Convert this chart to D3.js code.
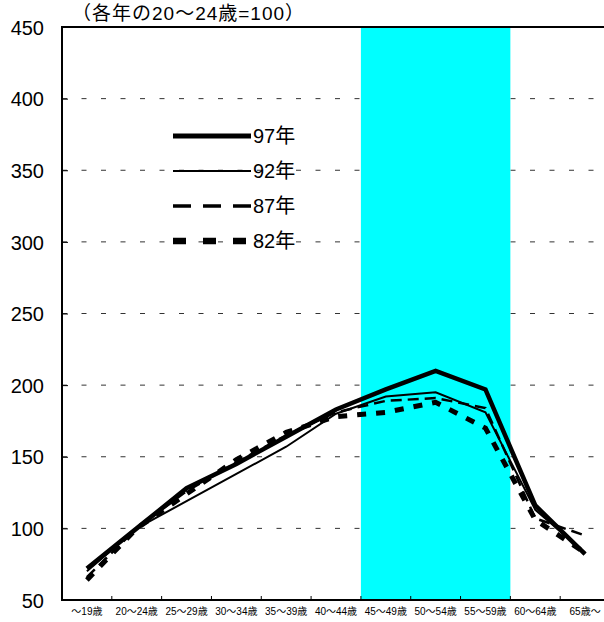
<!DOCTYPE html>
<html>
<head>
<meta charset="utf-8">
<script src="https://cdn.jsdelivr.net/npm/d3@7"></script>
<style>
  html, body { margin: 0; padding: 0; background: #fff; }
  svg { display: block; font-family: "Liberation Sans", Arial, "Noto Sans CJK JP", sans-serif; }
</style>
</head>
<body>
<svg id="chart" width="604" height="622"></svg>
<script>
// Age groups (x axis)
const ageGroups = ["～19歳", "20～24歳", "25～29歳", "30～34歳", "35～39歳", "40～44歳",
                   "45～49歳", "50～54歳", "55～59歳", "60～64歳", "65歳～"];

// Index values by age group (20～24歳 = 100) for each survey year
const y97 = [72, 100, 128, 145, 164, 183, 197, 210, 197, 116, 82];
const y92 = [70, 100, 119, 138, 157, 180, 192, 195, 181, 113, 83];
const y87 = [66, 100, 126, 146, 165, 181, 189, 191, 184, 107, 95];
const y82 = [64, 100, 124, 148, 167, 178, 181, 188, 170, 106, 83];

const seriesNames = ["97年", "92年", "87年", "82年"];
const yTicks = [50, 100, 150, 200, 250, 300, 350, 400, 450];
const highlightGroups = ["45～49歳", "50～54歳", "55～59歳"];
const subtitle = "（各年の20～24歳=100）";

const svg = d3.select("#chart");
const plotLeft = 62, plotRight = 610, plotTop = 27, plotBottom = 600;

const x = d3.scaleBand().domain(ageGroups).range([plotLeft, plotRight]).padding(0);
const y = d3.scaleLinear().domain([50, 450]).range([plotBottom, plotTop]);
const cx = d => x(d) + x.bandwidth() / 2;

// dashed horizontal gridlines
svg.append("g").selectAll("line")
  .data(yTicks.filter(v => v > 50 && v < 450))
  .join("line")
  .attr("x1", plotLeft).attr("x2", plotRight)
  .attr("y1", d => y(d)).attr("y2", d => y(d))
  .attr("stroke", "#333").attr("stroke-width", 1)
  .attr("stroke-dasharray", "5,14.5");

// highlighted age band
const h0 = x(highlightGroups[0]);
const h1 = x(highlightGroups[highlightGroups.length - 1]) + x.bandwidth();
svg.append("rect")
  .attr("x", h0).attr("y", plotTop).attr("width", h1 - h0).attr("height", plotBottom - plotTop)
  .attr("fill", "#00ffff");

// frame
svg.append("path")
  .attr("d", `M${plotRight},${plotTop}H${plotLeft}V${plotBottom}H${plotRight}`)
  .attr("fill", "none").attr("stroke", "#000").attr("stroke-width", 2);

// y axis ticks and labels
const yAxis = d3.axisLeft(y).tickValues(yTicks).tickSize(-6).tickPadding(18);
const gy = svg.append("g").attr("transform", `translate(${plotLeft},0)`).call(yAxis);
gy.select(".domain").remove();
gy.selectAll(".tick line").attr("stroke", "#000").attr("stroke-width", 1);
gy.selectAll(".tick text")
  .attr("font-size", 20).attr("fill", "#000")
  .attr("font-family", "'Liberation Sans', Arial, sans-serif")
  .attr("dy", "0.36em");

// x axis: ticks between groups, labels centred
const xb = svg.append("g");
xb.selectAll("line")
  .data(ageGroups.slice(1))
  .join("line")
  .attr("x1", d => x(d)).attr("x2", d => x(d))
  .attr("y1", plotBottom).attr("y2", plotBottom - 4)
  .attr("stroke", "#000").attr("stroke-width", 1);
xb.selectAll("text")
  .data(ageGroups)
  .join("text")
  .attr("x", d => cx(d)).attr("y", 615)
  .attr("text-anchor", "middle")
  .attr("font-size", 10)
  .text(d => d);

// series lines
const series = [
  { name: seriesNames[0], values: y97, width: 4.5, dash: null },
  { name: seriesNames[1], values: y92, width: 2, dash: null },
  { name: seriesNames[2], values: y87, width: 2.5, dash: "11,6" },
  { name: seriesNames[3], values: y82, width: 5, dash: "9,10" }
];
const line = d3.line().x((d, i) => cx(ageGroups[i])).y(d => y(d));

svg.append("g").selectAll("path")
  .data(series.slice().reverse())
  .join("path")
  .attr("d", d => line(d.values))
  .attr("fill", "none").attr("stroke", "#000")
  .attr("stroke-width", d => d.width)
  .attr("stroke-linejoin", "miter")
  .attr("stroke-dasharray", d => d.dash);

// legend
const legendDash = ["", "", "18,12", "13,17"];
const legendWidth = [5, 2, 3.5, 6.5];
const legendY = [136, 171, 206, 241];
const lg = svg.append("g");
series.forEach((s, i) => {
  lg.append("line")
    .attr("x1", 173).attr("x2", 251)
    .attr("y1", legendY[i]).attr("y2", legendY[i])
    .attr("stroke", "#000").attr("stroke-width", legendWidth[i])
    .attr("stroke-dasharray", legendDash[i] || null);
  lg.append("text")
    .attr("x", 253).attr("y", legendY[i]).attr("dy", "0.36em")
    .attr("font-size", 20)
    .text(s.name);
});

// subtitle
svg.append("text")
  .attr("x", 72).attr("y", 20)
  .attr("font-size", 19)
  .attr("letter-spacing", 1)
  .text(subtitle);
</script>
</body>
</html>
